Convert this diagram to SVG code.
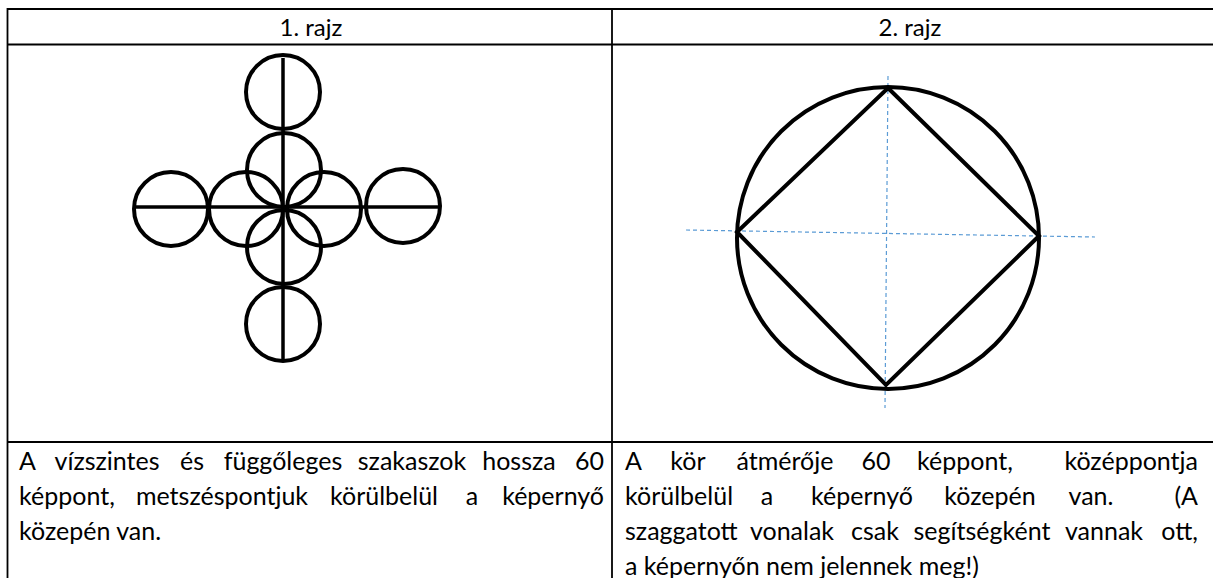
<svg xmlns="http://www.w3.org/2000/svg" width="1213" height="578" viewBox="0 0 1213 578">
<style>
.grid{stroke:#000;stroke-width:1.8;fill:none}
.shape{stroke:#000;stroke-width:4;fill:none}
.axis{stroke:#000;stroke-width:3.5;fill:none}
.guide{stroke:#5B9BD5;stroke-width:1.2;stroke-dasharray:4 3;fill:none}
text{font-family:Lato,"Liberation Sans",sans-serif;font-size:25px;fill:#000}
.h{text-anchor:middle;font-size:24px}
.m{text-anchor:middle}
.e{text-anchor:end}
</style>
<rect width="1213" height="578" fill="#fff"/>
<g id="table">
<line class="grid" x1="7" y1="9" x2="1213" y2="9"/>
<line class="grid" x1="7" y1="44.5" x2="1213" y2="44.5"/>
<line class="grid" x1="7" y1="442" x2="1213" y2="442"/>
<line class="grid" x1="7.5" y1="8" x2="7.5" y2="578"/>
<line class="grid" x1="612" y1="8" x2="612" y2="578"/>
</g>
<g id="headers">
<text class="h" x="311" y="36">1. rajz</text>
<text class="h" x="910" y="36">2. rajz</text>
</g>
<g id="drawing1">
<circle class="shape" cx="283" cy="92" r="37"/>
<circle class="shape" cx="284" cy="170" r="37"/>
<circle class="shape" cx="171" cy="209" r="37"/>
<circle class="shape" cx="246" cy="209" r="37"/>
<circle class="shape" cx="324" cy="209" r="37"/>
<circle class="shape" cx="403" cy="206" r="37"/>
<circle class="shape" cx="284" cy="247" r="37"/>
<circle class="shape" cx="283" cy="324" r="37"/>
<line class="axis" x1="283" y1="58" x2="283" y2="362"/>
<line class="axis" x1="136" y1="207" x2="438" y2="207"/>
</g>
<g id="drawing2">
<line class="guide" x1="888" y1="76" x2="885" y2="408"/>
<line class="guide" x1="686" y1="230" x2="1095" y2="237"/>
<circle class="shape" cx="888" cy="238" r="151"/>
<polygon class="shape" points="888,88 1039,236 886,385 737,232" stroke-linejoin="miter"/>
</g>
<g id="text1">
<text x="19" y="470">A</text>
<text class="m" x="107" y="470">vízszintes</text>
<text class="m" x="192" y="470">és</text>
<text class="m" x="283" y="470">függőleges</text>
<text class="m" x="412" y="470">szakaszok</text>
<text class="m" x="519" y="470">hossza</text>
<text class="e" x="604" y="470">60</text>
<text x="19" y="505">képpont,</text>
<text class="m" x="222" y="505">metszéspontjuk</text>
<text class="m" x="384" y="505">körülbelül</text>
<text class="m" x="472" y="505">a</text>
<text class="e" x="604" y="505">képernyő</text>
<text x="19" y="540">közepén van.</text>
</g>
<g id="text2">
<text x="625" y="470">A</text>
<text class="m" x="688" y="470">kör</text>
<text class="m" x="785" y="470">átmérője</text>
<text class="m" x="876" y="470">60</text>
<text class="m" x="965" y="470">képpont,</text>
<text class="e" x="1198" y="470">középpontja</text>
<text x="625" y="505">körülbelül</text>
<text class="m" x="767" y="505">a</text>
<text class="m" x="862" y="505">képernyő</text>
<text class="m" x="990" y="505">közepén</text>
<text class="m" x="1091" y="505">van.</text>
<text class="e" x="1198" y="505">(A</text>
<text x="625" y="540">szaggatott</text>
<text class="m" x="792" y="540">vonalak</text>
<text class="m" x="875" y="540">csak</text>
<text class="m" x="982" y="540">segítségként</text>
<text class="m" x="1104" y="540">vannak</text>
<text class="e" x="1198" y="540">ott,</text>
<text x="625" y="575">a képernyőn nem jelennek meg!)</text>
</g>
</svg>
